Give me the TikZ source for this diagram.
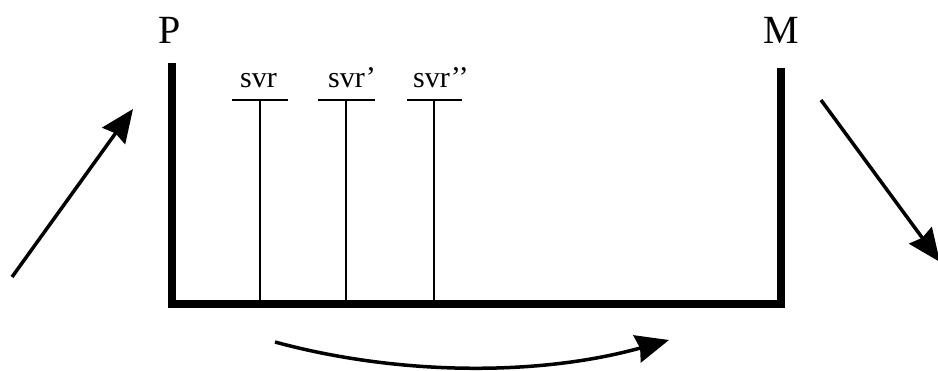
\documentclass[tikz,border=0pt]{standalone}
\usepackage{fontspec}
\setmainfont{Liberation Serif}
\usetikzlibrary{arrows.meta}
\begin{document}
\begin{tikzpicture}[x=1pt,y=-1pt,
  lbl/.style={inner sep=0pt,font=\fontsize{40pt}{40pt}\selectfont,anchor=base},
  svrlbl/.style={inner sep=0pt,font=\fontsize{30pt}{30pt}\selectfont,anchor=base west},
  wall/.style={line width=8pt,line cap=butt,line join=miter},
  stem/.style={line width=2pt},
  flow/.style={line width=3.5pt,-{Stealth[length=33pt,width=28pt,inset=3pt]}}]
\useasboundingbox (0,0) rectangle (938,370);
% walls
\coordinate (ptop) at (171.5,63);
\coordinate (pbot) at (171.5,304);
\coordinate (mbot) at (781,304);
\coordinate (mtop) at (781,68);
\draw[wall] (ptop) -- (pbot) -- (mbot) -- (mtop);
% labels
\node[lbl] (P) at (170,43) {P};
\node[lbl] (M) at (781,43) {M};
% svr markers
\foreach \n/\sx/\l/\r/\tx/\txt in {a/260/232/288/240/svr, b/346/318/375/328/svr’, c/434/407/462/413/svr’’}{
  \node[svrlbl] (t\n) at (\tx,87) {\txt};
  \coordinate (l\n) at (\l,100);
  \coordinate (r\n) at (\r,100);
  \coordinate (s\n) at (\sx,100);
  \coordinate (b\n) at (\sx,304);
  \draw[stem] (l\n) -- (r\n);
  \draw[stem] (s\n) -- (b\n);
}
% arrows
\coordinate (inA) at (12,277);
\coordinate (inB) at (133,109);
\draw[flow] (inA) -- (inB);
\coordinate (outA) at (821,100);
\coordinate (outB) at (940,262);
\draw[flow] (outA) -- (outB);
\coordinate (cA) at (275,342);
\coordinate (cB) at (669,340);
\draw[flow] (cA) .. controls (400,376) and (540,376) .. (cB);
\end{tikzpicture}
\end{document}
